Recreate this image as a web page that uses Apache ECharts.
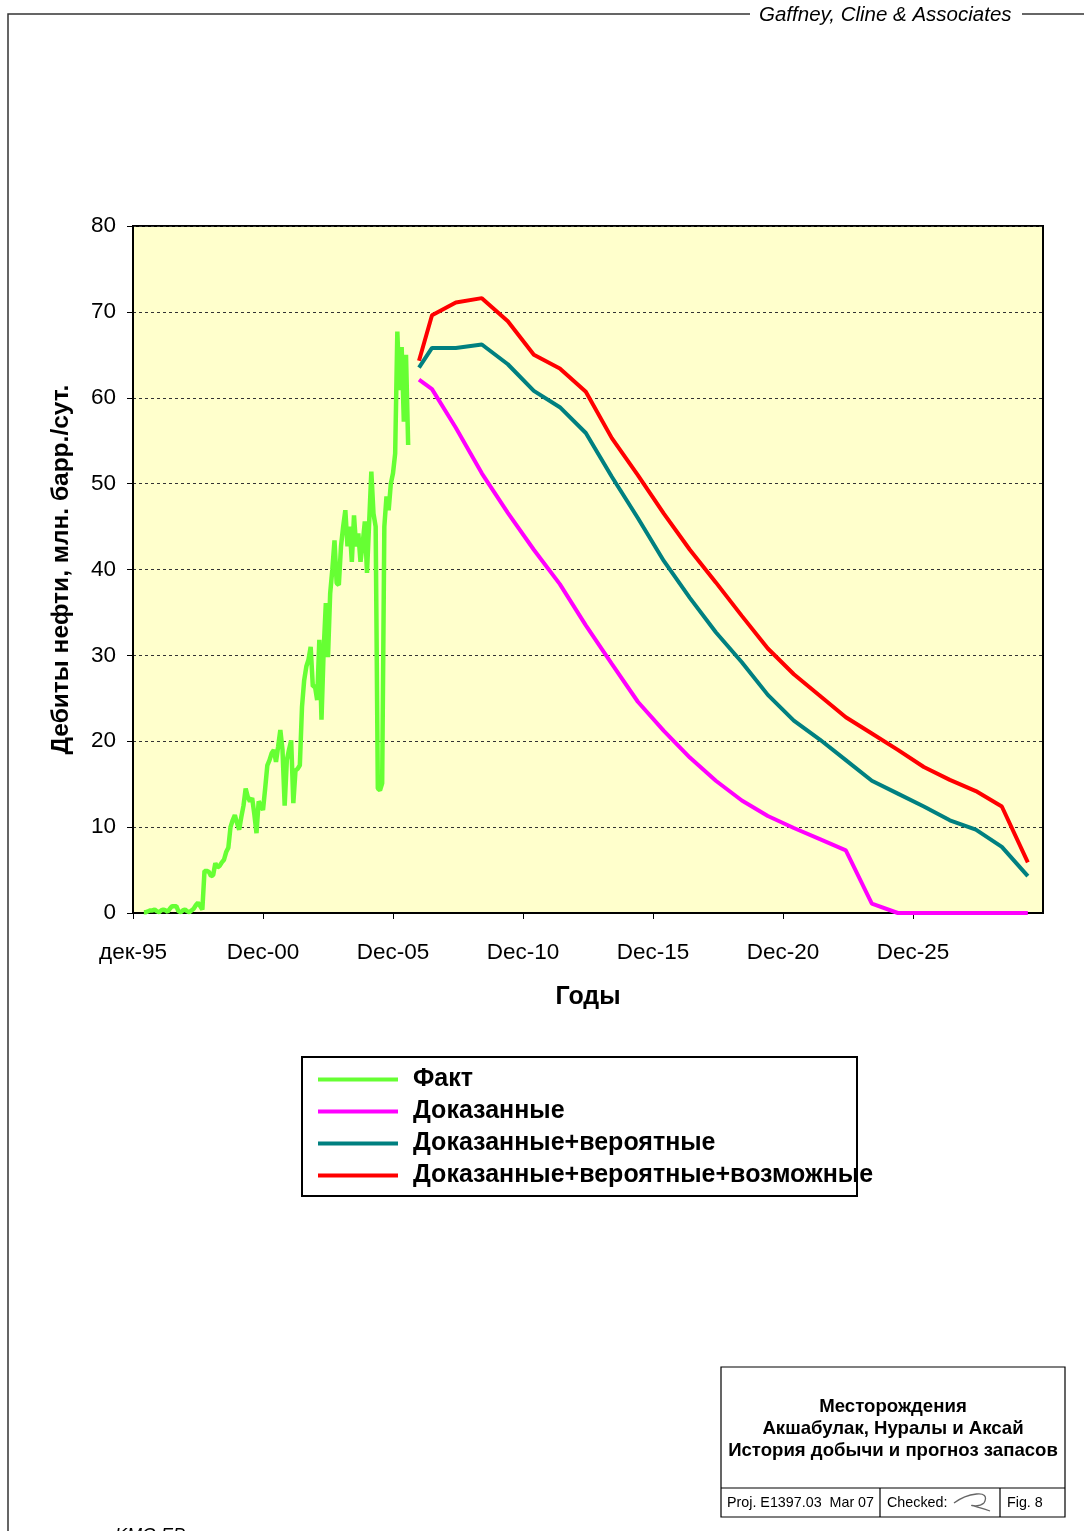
<!DOCTYPE html>
<html>
<head>
<meta charset="utf-8">
<script src="https://cdn.jsdelivr.net/npm/echarts@6/dist/echarts.min.js"></script>
<style>
  body { margin: 0; background: #fff; }
  #main { width: 1084px; height: 1531px; }
</style>
</head>
<body>
<div id="main"></div>
<script>
// ось X: месяцы от дек-95
var xTickLabels = ['дек-95', 'Dec-00', 'Dec-05', 'Dec-10', 'Dec-15', 'Dec-20', 'Dec-25', ''];

// факт, помесячно начиная с мая 1996
var factStart = '1996-05';
var factValues = [
  0.1, 0.1, 0.2, 0.3, 0.3, 0.4, 0.2, 0.1, 0.3, 0.4, 0.3, 0.15, 0.5, 0.8, 0.8, 0.8,
  0.2, 0.1, 0.3, 0.4, 0.2, 0.1, 0.3, 0.5, 0.9, 1.2, 0.8, 0.4, 4.9, 4.9, 4.8, 4.3,
  4.4, 5.8, 5.3, 5.5, 5.9, 6.2, 7.1, 7.6, 10.0, 10.8, 11.4, 10.5, 9.7, 11.2, 12.5,
  14.5, 13.5, 13.0, 13.4, 11.5, 9.3, 13.0, 12.5, 12.0, 14.5, 17.2, 17.8, 18.6, 19.0,
  17.6, 19.4, 21.3, 19.0, 12.5, 17.8, 19.0, 20.1, 12.8, 16.6, 16.8, 17.2, 24.0, 27.1,
  28.7, 29.5, 31.0, 26.4, 26.4, 24.8, 31.8, 22.5, 30.6, 36.1, 29.8, 37.2, 40.0, 43.4,
  38.4, 38.2, 42.7, 45.0, 46.9, 42.7, 45.0, 40.9, 46.3, 42.7, 44.2, 40.9, 43.0, 45.6,
  39.6, 45.5, 51.4, 46.5, 45.0, 14.5, 14.3, 15.1, 45.0, 48.5, 46.9, 50.0, 51.2, 53.5,
  67.7, 60.9, 65.9, 57.2, 65.0, 54.5
];

// прогноз
var forecastDates = ['2006-12', '2007-06', '2008-05', '2009-05', '2010-05', '2011-05', '2012-05',
  '2013-05', '2014-05', '2015-05', '2016-05', '2017-05', '2018-05', '2019-05', '2020-05',
  '2021-05', '2022-05', '2023-05', '2024-05', '2025-05', '2026-05', '2027-05', '2028-05',
  '2029-05', '2030-05'];
var proved = [62.1, 61.0, 56.5, 51.2, 46.6, 42.3, 38.3, 33.5, 29.0, 24.6, 21.2, 18.1, 15.4,
  13.1, 11.3, 9.9, 8.6, 7.3, 1.1, 0, 0, 0, 0, 0, 0];
var provedProbable = [63.5, 65.8, 65.8, 66.2, 63.9, 60.8, 58.9, 55.9, 50.8, 46.0, 41.0, 36.7,
  32.7, 29.2, 25.4, 22.4, 20.2, 17.8, 15.4, 13.9, 12.4, 10.8, 9.7, 7.7, 4.3];
var provedProbablePossible = [64.3, 69.6, 71.1, 71.6, 68.9, 65.0, 63.4, 60.7, 55.3, 51.0, 46.5,
  42.3, 38.5, 34.6, 30.8, 27.8, 25.3, 22.8, 20.9, 19.0, 17.0, 15.5, 14.2, 12.4, 5.9];

var seriesNames = ['Факт', 'Доказанные', 'Доказанные+вероятные', 'Доказанные+вероятные+возможные'];
var seriesColors = ['#66FF33', '#FF00FF', '#008080', '#FF0000'];

function monthIndex(s) {
  var p = s.split('-');
  return (parseInt(p[0], 10) - 1995) * 12 + parseInt(p[1], 10) - 12;
}

var m0 = monthIndex(factStart);
var factData = factValues.map(function (v, i) { return [m0 + i, v]; });
function fc(arr) {
  return arr.map(function (v, i) { return [monthIndex(forecastDates[i]), v]; });
}

var FONT = 'Arial, "Liberation Sans", sans-serif';
var chart = echarts.init(document.getElementById('main'), null, { renderer: 'canvas' });

function txt(x, y, s, font, align) {
  return { type: 'text', x: x, y: y, style: { text: s, font: font, fill: '#000', align: align || 'left', verticalAlign: 'middle' } };
}

var option = {
  animation: false,
  backgroundColor: '#fff',
  grid: {
    left: 133, top: 226, width: 910, height: 687,
    show: true, backgroundColor: '#FFFFCC', borderColor: '#000', borderWidth: 2
  },
  xAxis: {
    type: 'value', min: 0, max: 420, interval: 60,
    name: 'Годы', nameLocation: 'middle', nameGap: 72,
    nameTextStyle: { fontFamily: FONT, fontSize: 25, fontWeight: 'bold', color: '#000' },
    axisLine: { lineStyle: { color: '#000', width: 2 } },
    axisTick: { show: true, length: 6, lineStyle: { color: '#000' } },
    axisLabel: {
      margin: 28, fontFamily: FONT, fontSize: 22.5, color: '#000', showMaxLabel: false,
      formatter: function (v) { return xTickLabels[Math.round(v / 60)] || ''; }
    },
    splitLine: { show: false }
  },
  yAxis: {
    type: 'value', min: 0, max: 80, interval: 10,
    name: 'Дебиты нефти, млн. барр./сут.', nameLocation: 'middle', nameGap: 59,
    nameTextStyle: { fontFamily: FONT, fontSize: 24.5, fontWeight: 'bold', color: '#000', padding: [0, 0, 0, 0] },
    axisLine: { show: true, lineStyle: { color: '#000', width: 2 } },
    axisTick: { show: true, length: 6, lineStyle: { color: '#000' } },
    axisLabel: { margin: 17, fontFamily: FONT, fontSize: 22.5, color: '#000' },
    splitLine: { show: true, lineStyle: { color: '#333', width: 1, type: [3, 3] } }
  },
  legend: {
    orient: 'vertical', left: 313, top: 1062,
    itemWidth: 80, itemHeight: 4, itemGap: 7, icon: 'rect',
    data: seriesNames,
    textStyle: { fontFamily: FONT, fontSize: 25, fontWeight: 'bold', color: '#000', lineHeight: 24, padding: [0, 0, 0, 10] }
  },
  series: [
    { name: seriesNames[0], type: 'line', data: factData, symbol: 'none', color: seriesColors[0],
      lineStyle: { width: 4.5, color: seriesColors[0] } },
    { name: seriesNames[1], type: 'line', data: fc(proved), symbol: 'none', color: seriesColors[1],
      lineStyle: { width: 4, color: seriesColors[1] } },
    { name: seriesNames[2], type: 'line', data: fc(provedProbable), symbol: 'none', color: seriesColors[2],
      lineStyle: { width: 4, color: seriesColors[2] } },
    { name: seriesNames[3], type: 'line', data: fc(provedProbablePossible), symbol: 'none', color: seriesColors[3],
      lineStyle: { width: 4, color: seriesColors[3] } }
  ],
  graphic: [
    // рамка страницы
    { type: 'polyline', shape: { points: [[8, 1531], [8, 14], [750, 14]] }, style: { stroke: '#333', lineWidth: 1.5, fill: null } },
    { type: 'line', shape: { x1: 1022, y1: 14, x2: 1084, y2: 14 }, style: { stroke: '#333', lineWidth: 1.5 } },
    txt(759, 15, 'Gaffney, Cline & Associates', 'italic 20.5px ' + FONT),
    // рамка легенды
    { type: 'rect', z: -1, shape: { x: 302, y: 1057, width: 555, height: 139 }, style: { fill: '#fff', stroke: '#000', lineWidth: 2 } },
    // штамп
    { type: 'rect', shape: { x: 721, y: 1367, width: 344, height: 150 }, style: { fill: '#fff', stroke: '#000', lineWidth: 1.2 } },
    { type: 'line', shape: { x1: 721, y1: 1488, x2: 1065, y2: 1488 }, style: { stroke: '#000', lineWidth: 1.2 } },
    { type: 'line', shape: { x1: 880, y1: 1488, x2: 880, y2: 1517 }, style: { stroke: '#000', lineWidth: 1.2 } },
    { type: 'line', shape: { x1: 1000, y1: 1488, x2: 1000, y2: 1517 }, style: { stroke: '#000', lineWidth: 1.2 } },
    txt(893, 1407, 'Месторождения', 'bold 18.6px ' + FONT, 'center'),
    txt(893, 1429, 'Акшабулак, Нуралы и Аксай', 'bold 18.6px ' + FONT, 'center'),
    txt(893, 1451, 'История добычи и прогноз запасов', 'bold 18.6px ' + FONT, 'center'),
    txt(727, 1503, 'Proj. E1397.03  Mar 07', '14.3px ' + FONT),
    txt(887, 1503, 'Checked:', '14.3px ' + FONT),
    txt(1007, 1503, 'Fig. 8', '14.3px ' + FONT),
    // подпись
    { type: 'bezierCurve', shape: { x1: 954, y1: 1503, cpx1: 966, cpy1: 1494, cpx2: 992, cpy2: 1488, x2: 984, y2: 1503 },
      style: { fill: null, stroke: '#666', lineWidth: 1.3 } },
    { type: 'bezierCurve', shape: { x1: 984, y1: 1503, cpx1: 976, cpy1: 1510, cpx2: 958, cpy2: 1500, x2: 990, y2: 1511 },
      style: { fill: null, stroke: '#666', lineWidth: 1.3 } },
    txt(115, 1536, 'KMG EP', 'italic 18px ' + FONT)
  ]
};

chart.setOption(option);
</script>
</body>
</html>
